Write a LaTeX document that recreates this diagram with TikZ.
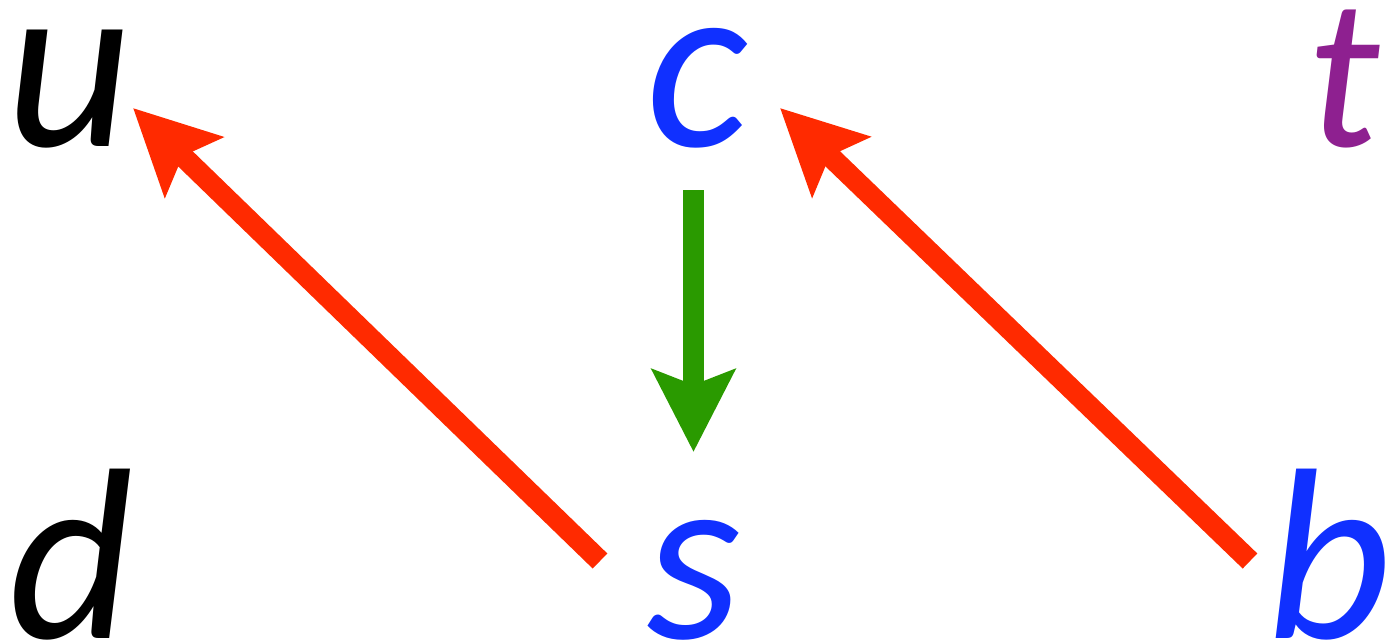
\documentclass[tikz,border=0pt]{standalone}
\usepackage{fontspec}
\setmainfont{Carlito}
\usetikzlibrary{arrows.meta}
\definecolor{qblue}{HTML}{1030FF}
\definecolor{qpurple}{HTML}{8E2090}
\definecolor{qred}{HTML}{FF2A00}
\definecolor{qgreen}{HTML}{2A9A00}
\begin{document}
\begin{tikzpicture}[x=0.5pt,y=-0.5pt,
  letter/.style={inner sep=0pt, font=\fontsize{122}{130}\selectfont\itshape},
  tallletter/.style={inner sep=0pt, font=\fontsize{108}{120}\selectfont\itshape},
  redarrow/.style={draw=qred, line width=10.5pt, -{Stealth[length=42pt,width=41pt,inset=7.5pt]}, qred},
  greenarrow/.style={draw=qgreen, line width=10.5pt, -{Stealth[length=41pt,width=41pt,inset=7.5pt]}, qgreen}]
\useasboundingbox (0,0) rectangle (1387,642);
\node[letter, anchor=base west] (u) at (6,147) {u};
\node[letter, anchor=base west, text=qblue] (c) at (646,147) {c};
\node[tallletter, anchor=base east, text=qpurple] (t) at (1380,147) {t};
\node[letter, anchor=base west] (d) at (8,638) {d};
\node[letter, anchor=base west, text=qblue] (s) at (646,638) {s};
\node[letter, anchor=base east, text=qblue] (b) at (1392,638) {b};
\coordinate (s1) at (600,561);
\coordinate (u1) at (133,108);
\coordinate (b1) at (1250,561);
\coordinate (c1) at (780,108);
\coordinate (c2) at (693.5,190);
\coordinate (s2) at (693.5,452);
\draw[redarrow] (s1) -- (u1);
\draw[redarrow] (b1) -- (c1);
\draw[greenarrow] (c2) -- (s2);
\end{tikzpicture}
\end{document}
